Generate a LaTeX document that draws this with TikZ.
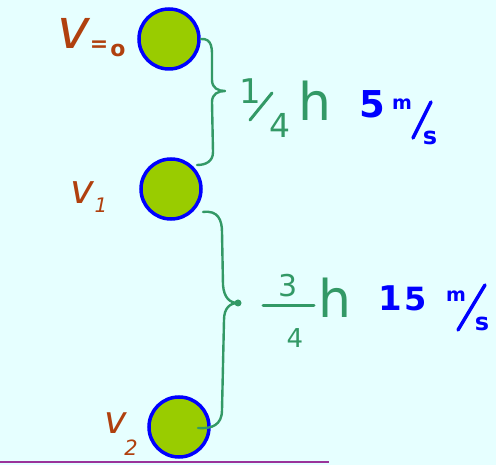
\documentclass[tikz,border=0pt]{standalone}
\usepackage{fontspec}
\setmainfont{DejaVu Sans}
\definecolor{bgc}{HTML}{E6FFFF}
\definecolor{ballfill}{HTML}{99CC00}
\definecolor{ballline}{HTML}{0000FF}
\definecolor{bracec}{HTML}{339966}
\definecolor{brownc}{HTML}{B0400E}
\definecolor{groundc}{HTML}{993399}
\newcommand{\fsz}[1]{\fontsize{#1}{#1}\selectfont}
\tikzset{
  ball/.style={circle, draw=ballline, fill=ballfill, line width=3.5pt, minimum size=60pt, inner sep=0pt},
  bracepath/.style={draw=bracec, line width=2.4pt, line cap=round, line join=round},
  vlabel/.style={text=brownc, font=\itshape, inner sep=0pt},
  hlabel/.style={text=bracec, inner sep=0pt},
  slabel/.style={text=ballline, font=\bfseries, inner sep=0pt},
  gstroke/.style={draw=bracec, line width=3pt, line cap=round},
  bstroke/.style={draw=ballline, line width=3.5pt, line cap=round}
}
\begin{document}
\begin{tikzpicture}[x=1pt,y=-1pt]
\fill[bgc] (0,0) rectangle (496,465);
\useasboundingbox (0,0) rectangle (496,465);
% ground
\coordinate (g1) at (0,462);
\coordinate (g2) at (329,462);
\draw[groundc, line width=2.5pt] (g1) -- (g2);
% balls
\node[ball] (b1) at (169,39) {};
\node[ball] (b2) at (171,189) {};
\node[ball] (b3) at (179,427) {};
% braces
\coordinate (t1) at (225,91);
\coordinate (t2) at (238,303);
\draw[bracepath] (b1.east) .. controls (213,38) and (212,50) .. (212,60) -- (212,80) .. controls (212,88) and (218,91) .. (t1) .. controls (218,91) and (212,94) .. (212,102) -- (213,152) .. controls (213,162) and (205,165) .. (197,165);
\draw[bracepath] (203,212) .. controls (218,210) and (222,220) .. (222,232) -- (223,285) .. controls (224,298) and (230,303) .. (t2) .. controls (230,303) and (224,308) .. (224,320) -- (222,410) .. controls (222,425) and (212,429) .. (198,428);
\fill[bracec] (t2) circle (3.5pt);
% v labels
\node[vlabel] (v0) at (74,33) {\fsz{55}v};
\node[vlabel, font=\bfseries] (v0e) at (99,46) {\fsz{22}=};
\node[vlabel, font=\bfseries] (v0o) at (118,50) {\fsz{22}o};
\node[vlabel] (v1) at (82,193) {\fsz{40}v};
\node[vlabel] (v1s) at (101,205) {\fsz{20}1};
\node[vlabel] (v2) at (116,423) {\fsz{38}v};
\node[vlabel] (v2s) at (131,448) {\fsz{21}2};
% 1/4 h
\node[hlabel] (h1a) at (250,91) {\fsz{34}1};
\coordinate (sl1a) at (250,120);
\coordinate (sl1b) at (272,93);
\draw[gstroke] (sl1a) -- (sl1b);
\node[hlabel] (h1b) at (280,125) {\fsz{33}4};
\node[hlabel] (h1h) at (315,101) {\fsz{52}h};
% 5 m/s
\node[slabel] (s1n) at (372,104) {\fsz{37}5};
\node[slabel] (s1m) at (402,104) {\fsz{19}m};
\coordinate (sl2a) at (413,138);
\coordinate (sl2b) at (431,102);
\draw[bstroke] (sl2a) -- (sl2b);
\node[slabel] (s1d) at (430,138) {\fsz{24}s};
% 3/4 h
\node[hlabel] (h2a) at (288,286) {\fsz{30}3};
\coordinate (bar1) at (263,306);
\coordinate (bar2) at (314,306);
\draw[gstroke] (bar1) -- (bar2);
\node[hlabel] (h2b) at (295,338) {\fsz{26}4};
\node[hlabel] (h2h) at (335,298) {\fsz{52}h};
% 15 m/s
\node[slabel] (s2a) at (390,298) {\fsz{34}1};
\node[slabel] (s2n) at (416,299) {\fsz{32}5};
\node[slabel] (s2m) at (456,296) {\fsz{19}m};
\coordinate (sl3a) at (458,330);
\coordinate (sl3b) at (485,285);
\draw[bstroke] (sl3a) -- (sl3b);
\node[slabel] (s2d) at (482,324) {\fsz{24}s};
\end{tikzpicture}
\end{document}
